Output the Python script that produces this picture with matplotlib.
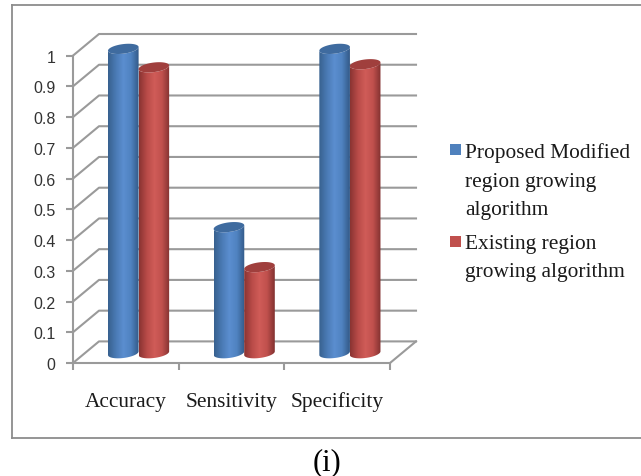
import numpy as np
import matplotlib
matplotlib.use('Agg')
import matplotlib.pyplot as plt
from matplotlib.colors import LinearSegmentedColormap
from matplotlib.lines import Line2D
from matplotlib.patches import Polygon, Rectangle

categories = ['Accuracy', 'Sensitivity', 'Specificity']
proposed = [0.99, 0.41, 0.99]
existing = [0.93, 0.28, 0.94]
y_ticks = [0, 0.1, 0.2, 0.3, 0.4, 0.5, 0.6, 0.7, 0.8, 0.9, 1]
y_tick_labels = ['0', '0.1', '0.2', '0.3', '0.4', '0.5', '0.6', '0.7', '0.8', '0.9', '1']
legend_proposed = ['Proposed Modified', 'region growing', 'algorithm']
legend_existing = ['Existing region', 'growing algorithm']

W, H = 641, 477
GRID = '#9a9a9a'
plt.rcParams['font.family'] = ['Liberation Serif', 'DejaVu Serif']


def fx(px):
    return px / W


def fy(px):
    return 1 - px / H


fig = plt.figure(figsize=(W / 100, H / 100), dpi=100, facecolor='white')

# outer frame, runs off the right edge
for xs, ys in [((12, 641), (5.5, 5.5)), ((12, 12), (5.5, 438.5)), ((12, 641), (438.5, 438.5))]:
    fig.add_artist(Line2D([fx(v) for v in xs], [fy(v) for v in ys], color='#8c8c8c', lw=1.3))

ax = fig.add_axes([fx(73), fy(364), 317 / W, 307.4 / H])
ax.set_xlim(0, 3)
ax.set_ylim(0, 1)
ax.patch.set_alpha(0)
for side in ['top', 'right']:
    ax.spines[side].set_visible(False)
for side in ['left', 'bottom']:
    ax.spines[side].set_color(GRID)
    ax.spines[side].set_linewidth(1.5)

# depth of the fake 3d box, in data units
dx = 26 / (317 / 3)
dy = 21.6 / 307.4

for t in y_ticks:
    ax.plot([0, dx, 3 + dx], [t, t + dy, t + dy], color=GRID, lw=1.5, clip_on=False, zorder=1)
ax.plot([3, 3 + dx], [0, dy], color=GRID, lw=1.5, clip_on=False, zorder=1)

ax.set_yticks(y_ticks)
ax.set_yticklabels(y_tick_labels, family=['Liberation Sans'], fontsize=11.5, color='#333333')
ax.set_xticks([0, 1, 2, 3])
ax.set_xticklabels([])
ax.tick_params(axis='both', color=GRID, width=1.5, length=5)
ax.tick_params(axis='y', pad=7.5)
for i, name in enumerate(categories):
    ax.annotate(name, (i + 0.5, 0), xytext=(0, -43), textcoords='offset pixels', ha='center', va='baseline',
                fontsize=15.4, color='#1a1a1a', annotation_clip=False)

blue_cmap = LinearSegmentedColormap.from_list('b', ['#38618f', '#4a7ab4', '#5b8ed0', '#4f82c0', '#335a88'])
red_cmap = LinearSegmentedColormap.from_list('r', ['#8a3432', '#b84b48', '#d05c58', '#c0504d', '#823130'])

half = 15.3 / (317 / 3)
ry = 4.8 / 307.4
tilt = 1.8 / 307.4
angles = np.linspace(0, 2 * np.pi, 121)


def cylinder(cx, value, cmap, cap_color):
    base = dy / 2 - 1 / 307.4
    top = base + value
    lower = angles[(angles >= np.pi)]
    # side wall: lower arc of the base, then back along the lower arc of the cap
    xs = np.concatenate([cx + half * np.cos(lower), cx + half * np.cos(lower[::-1])])
    ys = np.concatenate([base + ry * np.sin(lower) + tilt * np.cos(lower),
                         top + ry * np.sin(lower[::-1]) + tilt * np.cos(lower[::-1])])
    side = Polygon(np.column_stack([xs, ys]), closed=True, fc='none', ec='none', clip_on=False)
    ax.add_patch(side)
    grad = np.linspace(0, 1, 64).reshape(1, -1)
    im = ax.imshow(grad, cmap=cmap, extent=(cx - half, cx + half, -0.1, 1.2), aspect='auto', zorder=3)
    im.set_clip_box(fig.bbox)
    im.set_clip_path(side)
    cap = Polygon(np.column_stack([cx + half * np.cos(angles), top + ry * np.sin(angles) + tilt * np.cos(angles)]),
                  closed=True, fc=cap_color, ec='none', zorder=4, clip_on=False)
    ax.add_patch(cap)


for i in range(len(categories)):
    cylinder(i + 0.476, proposed[i], blue_cmap, '#3f6b9f')
    cylinder(i + 0.765, existing[i], red_cmap, '#a03f3d')

ax.set_xlim(0, 3)
ax.set_ylim(0, 1)

# legend
fig.add_artist(Rectangle((fx(450), fy(156)), 11 / W, 11 / H, transform=fig.transFigure, fc='#4f81bd', ec='none'))
fig.add_artist(Rectangle((fx(450), fy(248)), 11 / W, 11 / H, transform=fig.transFigure, fc='#c0504d', ec='none'))
for line, py in zip(legend_proposed, [158, 187, 215]):
    fig.text(fx(465), fy(py), line, fontsize=15.4, color='#1a1a1a', va='baseline', ha='left')
for line, py in zip(legend_existing, [249, 277]):
    fig.text(fx(465), fy(py), line, fontsize=15.4, color='#1a1a1a', va='baseline', ha='left')

fig.text(fx(327.5), fy(470), '(i)', fontsize=22, color='black', ha='center', va='baseline')

fig.savefig('out.png', dpi=100)
